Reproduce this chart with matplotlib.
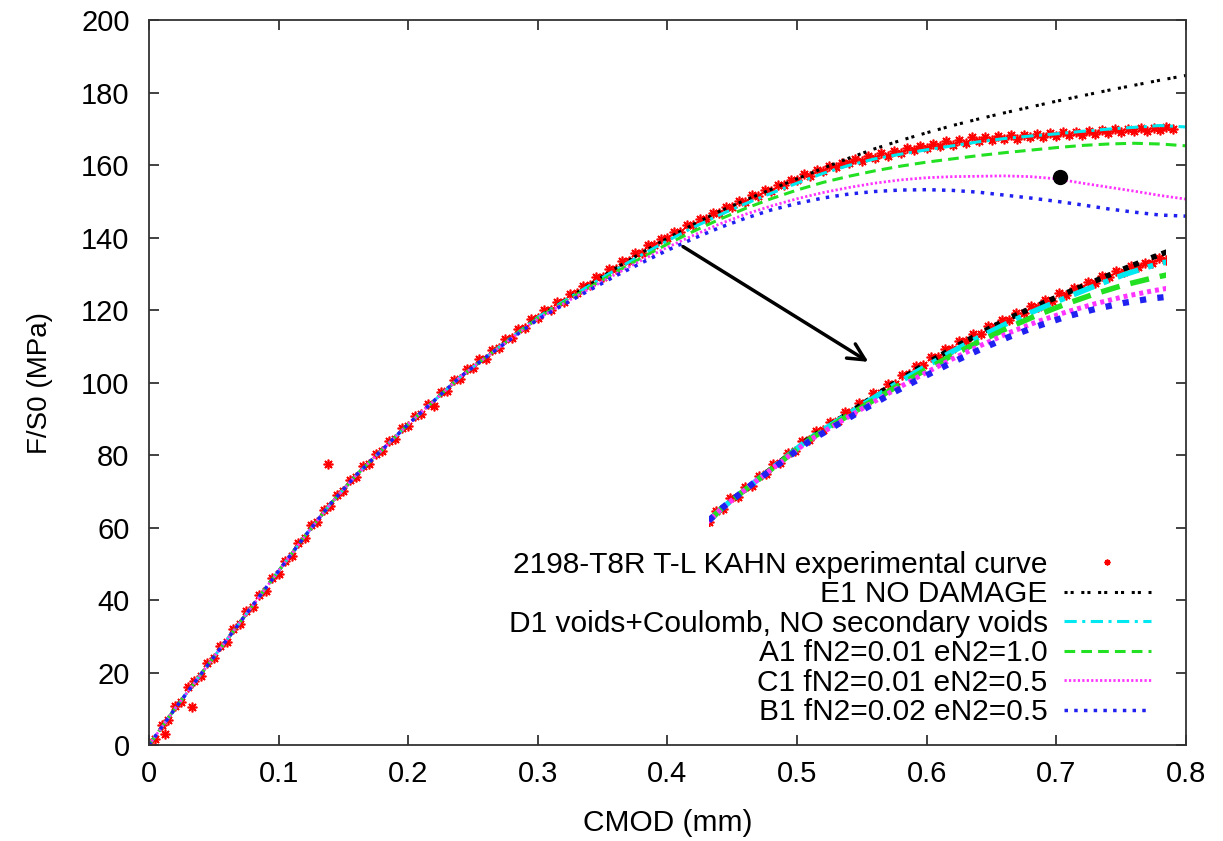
import matplotlib.pyplot as plt

plt.rcParams['font.family'] = ['Liberation Sans', 'DejaVu Sans']

# model curves (CMOD in mm, F/S0 in MPa)
cmod = [0.00, 0.02, 0.04, 0.06, 0.08, 0.10, 0.12, 0.14, 0.16, 0.18,
        0.20, 0.22, 0.24, 0.26, 0.28, 0.30, 0.32, 0.34, 0.36, 0.38,
        0.40, 0.42, 0.44, 0.46, 0.48, 0.50, 0.52, 0.54, 0.56, 0.58,
        0.60, 0.62, 0.64, 0.66, 0.68, 0.70, 0.72, 0.74, 0.76, 0.78, 0.80]

e1 = [0.0, 10.0, 19.5, 29.0, 38.5, 48.0, 57.5, 66.5, 74.5, 81.5,
      88.5, 95.0, 101.5, 107.0, 112.5, 118.0, 122.5, 127.0, 131.5, 135.8,
      139.8, 143.6, 147.2, 150.3, 153.3, 156.2, 159.1, 161.9, 164.5, 166.8,
      168.9, 170.9, 172.7, 174.4, 176.0, 177.6, 179.1, 180.6, 182.0, 183.4, 184.7]

d1 = [0.0, 10.0, 19.5, 29.0, 38.5, 48.0, 57.5, 66.5, 74.5, 81.5,
      88.5, 95.0, 101.5, 107.0, 112.5, 118.0, 122.4, 126.8, 131.1, 135.2,
      139.1, 142.8, 146.2, 149.3, 152.2, 155.0, 157.7, 159.9, 161.7, 163.0,
      164.2, 165.3, 166.4, 167.3, 168.0, 168.6, 169.3, 169.9, 170.4, 170.9, 170.5]

a1 = [0.0, 10.0, 19.5, 29.0, 38.5, 48.0, 57.5, 66.5, 74.5, 81.5,
      88.5, 95.0, 101.5, 107.0, 112.4, 117.8, 122.1, 126.3, 130.4, 134.4,
      138.2, 141.7, 145.0, 148.0, 150.7, 153.1, 155.2, 156.9, 158.4, 159.7,
      160.8, 161.7, 162.6, 163.4, 164.1, 164.8, 165.4, 165.8, 166.0, 165.8, 165.3]

c1 = [0.0, 10.0, 19.5, 29.0, 38.5, 48.0, 57.5, 66.5, 74.5, 81.5,
      88.5, 95.0, 101.5, 107.0, 112.3, 117.6, 121.8, 125.9, 129.9, 133.7,
      137.3, 140.6, 143.7, 146.4, 148.7, 150.7, 152.4, 153.8, 155.0, 155.9,
      156.5, 156.8, 156.9, 157.0, 156.8, 156.2, 155.0, 153.9, 152.8, 151.6, 150.6]

b1 = [0.0, 10.0, 19.5, 29.0, 38.5, 48.0, 57.5, 66.5, 74.5, 81.5,
      88.5, 95.0, 101.5, 107.0, 112.2, 117.4, 121.5, 125.5, 129.4, 133.0,
      136.5, 139.7, 142.7, 145.3, 147.6, 149.4, 150.9, 152.0, 152.7, 153.1,
      153.2, 153.0, 152.5, 151.7, 150.9, 150.0, 149.0, 147.9, 147.0, 146.2, 145.9]

# experimental points
exp_x = [0.000, 0.005, 0.010, 0.015, 0.020, 0.025, 0.030, 0.035, 0.040, 0.045,
         0.050, 0.055, 0.060, 0.065, 0.070, 0.075, 0.080, 0.085, 0.090, 0.095,
         0.100, 0.105, 0.110, 0.115, 0.120, 0.125, 0.130, 0.135, 0.140, 0.145,
         0.150, 0.155, 0.160, 0.165, 0.170, 0.175, 0.180, 0.185, 0.190, 0.195,
         0.200, 0.205, 0.210, 0.215, 0.220, 0.225, 0.230, 0.235, 0.240, 0.245,
         0.250, 0.255, 0.260, 0.265, 0.270, 0.275, 0.280, 0.285, 0.290, 0.295,
         0.300, 0.305, 0.310, 0.315, 0.320, 0.325, 0.330, 0.335, 0.340, 0.345,
         0.350, 0.355, 0.360, 0.365, 0.370, 0.375, 0.380, 0.385, 0.390, 0.395,
         0.400, 0.405, 0.410, 0.415, 0.420, 0.425, 0.430, 0.435, 0.440, 0.445,
         0.450, 0.455, 0.460, 0.465, 0.470, 0.475, 0.480, 0.485, 0.490, 0.495,
         0.500, 0.505, 0.510, 0.515, 0.520, 0.525, 0.530, 0.535, 0.540, 0.545,
         0.550, 0.555, 0.560, 0.565, 0.570, 0.575, 0.580, 0.585, 0.590, 0.595,
         0.600, 0.605, 0.610, 0.615, 0.620, 0.625, 0.630, 0.635, 0.640, 0.645,
         0.650, 0.655, 0.660, 0.665, 0.670, 0.675, 0.680, 0.685, 0.690, 0.695,
         0.700, 0.705, 0.710, 0.715, 0.720, 0.725, 0.730, 0.735, 0.740, 0.745,
         0.750, 0.755, 0.760, 0.765, 0.770, 0.775, 0.780, 0.785, 0.790,
         0.033, 0.138, 0.012]
exp_y = [0.3, 1.8, 5.6, 7.0, 10.8, 12.0, 15.9, 17.6, 19.0, 22.6,
         24.0, 27.3, 28.4, 31.9, 33.3, 36.9, 38.0, 41.5, 42.6, 46.2,
         47.3, 50.9, 52.1, 55.8, 57.0, 60.6, 61.6, 64.9, 66.0, 69.1,
         70.0, 73.1, 73.9, 76.9, 77.4, 80.4, 81.0, 83.9, 84.5, 87.4,
         88.0, 90.8, 91.2, 94.2, 93.6, 97.3, 97.8, 100.6, 101.0, 103.6,
         104.0, 106.4, 106.6, 109.1, 109.5, 111.9, 112.2, 114.7, 115.0, 117.4,
         117.7, 120.0, 120.1, 122.2, 122.3, 124.4, 124.6, 126.7, 126.8, 129.0,
         129.1, 131.2, 131.3, 133.5, 133.6, 135.7, 135.8, 137.8, 137.8, 139.7,
         139.8, 141.6, 141.6, 143.5, 143.4, 145.2, 145.1, 146.8, 146.8, 148.4,
         148.4, 150.1, 149.9, 151.7, 151.4, 153.2, 152.9, 154.6, 154.4, 156.0,
         155.8, 157.5, 157.1, 158.6, 158.4, 159.8, 159.5, 160.6, 160.5, 161.7,
         161.2, 162.6, 162.0, 163.3, 162.6, 163.8, 163.4, 164.6, 164.2, 165.3,
         164.6, 165.8, 165.2, 166.6, 165.6, 166.9, 166.0, 167.6, 166.5, 167.8,
         166.9, 168.0, 167.2, 168.2, 167.3, 168.4, 167.6, 168.6, 167.8, 168.8,
         168.0, 169.0, 168.2, 169.2, 168.4, 169.4, 168.6, 169.6, 168.8, 169.8,
         169.0, 169.9, 169.3, 170.1, 169.5, 170.3, 169.7, 170.5, 170.0,
         10.5, 77.5, 3.0]

labels = ['2198-T8R T-L KAHN experimental curve',
          'E1 NO DAMAGE',
          'D1 voids+Coulomb, NO secondary voids',
          'A1 fN2=0.01 eN2=1.0',
          'C1 fN2=0.01 eN2=0.5',
          'B1 fN2=0.02 eN2=0.5']

dot_x, dot_y = [0.703], [156.8]

xticks = [0, 0.1, 0.2, 0.3, 0.4, 0.5, 0.6, 0.7, 0.8]
xticklabels = ['0', '0.1', '0.2', '0.3', '0.4', '0.5', '0.6', '0.7', '0.8']
yticks = [0, 20, 40, 60, 80, 100, 120, 140, 160, 180, 200]


def draw_curves(a, k):
    a.plot(exp_x, exp_y, ls='none', marker=(8, 2, 0), ms=7, mew=1.2,
           color='#ff0000', label=labels[0])
    a.plot(cmod, e1, color='black', lw=2.2 * k, ls=(0, (1, 1, 1, 2.5)), label=labels[1])
    a.plot(cmod, d1, color='#00e8f0', lw=2.2 * k, ls=(0, (4, 1.8, 1, 1.8)), label=labels[2])
    a.plot(cmod, a1, color='#22e022', lw=2.2 * k, ls=(0, (3.5, 2)), label=labels[3])
    a.plot(cmod, c1, color='#ff33ff', lw=2.0 * k, ls=(0, (0.8, 0.8)), label=labels[4])
    a.plot(cmod, b1, color='#2020f0', lw=2.5 * k, ls=(0, (1, 1.8)), label=labels[5])


fig = plt.figure(figsize=(12.23, 8.41), dpi=100)
ax = fig.add_axes([0.1218, 0.1141, 0.8479, 0.8621])

draw_curves(ax, 1.0)
ax.plot(dot_x, dot_y, 'o', color='black', ms=10)

ax.set_xlim(0, 0.8)
ax.set_ylim(0, 200)
ax.set_xticks(xticks)
ax.set_xticklabels(xticklabels)
ax.set_yticks(yticks)
ax.tick_params(direction='in', top=True, right=True, length=7, width=1.3,
               labelsize=21, color='#333333')
ax.tick_params(axis='x', pad=11)
ax.tick_params(axis='y', pad=14)
for s in ax.spines.values():
    s.set_color('#333333')
    s.set_linewidth(1.3)

ax.set_xlabel('CMOD (mm)', fontsize=21.5, labelpad=15)
ax.set_ylabel('F/S0 (MPa)', fontsize=20, labelpad=20)

ax.legend(loc='lower right', bbox_to_anchor=(0.966, 0.026), frameon=False,
          markerfirst=False, fontsize=21.5, handlelength=2.9, handletextpad=0.55,
          labelspacing=0.05, borderpad=0, borderaxespad=0, markerscale=0.6)

# zoomed copy of the divergence zone
axins = ax.inset_axes([0.432, 60.5, 0.353, 76.4], transform=ax.transData)
draw_curves(axins, 1.8)
axins.set_xlim(0.23, 0.55)
axins.set_ylim(97, 164)
axins.axis('off')

ax.annotate('', xy=(0.555, 105.7), xytext=(0.412, 137.5),
            arrowprops=dict(arrowstyle='->,head_length=0.6,head_width=0.3',
                            lw=2.5, color='black', shrinkA=0, shrinkB=0,
                            mutation_scale=20))

fig.savefig('out.png', dpi=100)
